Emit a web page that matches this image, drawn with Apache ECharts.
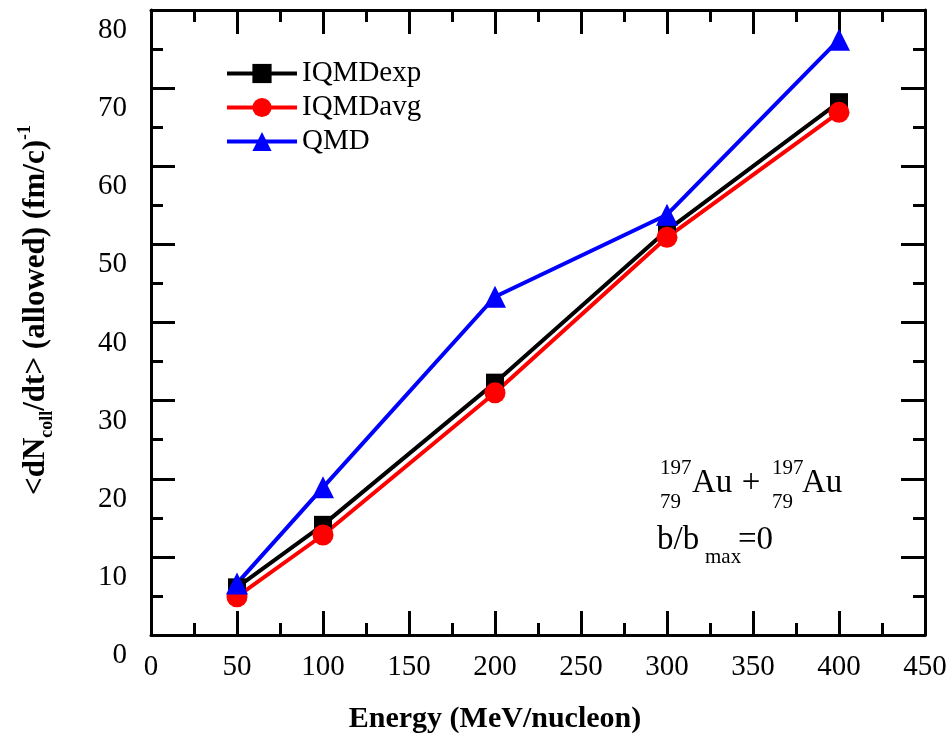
<!DOCTYPE html>
<html>
<head>
<meta charset="utf-8">
<script src="https://cdn.jsdelivr.net/npm/echarts@6/dist/echarts.min.js"></script>
<style>html,body{margin:0;padding:0;background:#fff;}#c{width:951px;height:738px;}</style>
</head>
<body>
<div id="c"></div>
<script>
var energies = [50, 100, 200, 300, 400];
var iqmdExp = [6.1, 14.1, 32.3, 51.8, 68.2];
var iqmdAvg = [4.9, 12.8, 31.0, 50.9, 66.9];
var qmd = [6.6, 18.9, 43.3, 53.8, 76.2];
var seriesNames = ['IQMDexp', 'IQMDavg', 'QMD'];
var xTicks = {min: 0, max: 450, interval: 50};
var yTicks = {min: 0, max: 80, interval: 10};

var FONT = '"Liberation Serif", "Times New Roman", serif';
function pairs(xs, ys) { return xs.map(function (x, i) { return [x, ys[i]]; }); }

var chart = echarts.init(document.getElementById('c'));
var axisLineStyle = {color: '#000', width: 3};
var tick = {show: true, inside: true, length: 24, lineStyle: {color: '#000', width: 3}};
var minor = {show: true, splitNumber: 2, length: 12, lineStyle: {color: '#000', width: 3}};

chart.setOption({
  animation: false,
  backgroundColor: '#fff',
  grid: {left: 151, right: 26, top: 10, bottom: 103, containLabel: false},
  legend: {
    orient: 'vertical', left: 225, top: 59, padding: 0,
    itemWidth: 70, itemHeight: 24, itemGap: 5,
    lineStyle: {width: 4},
    textStyle: {fontFamily: FONT, fontSize: 29, color: '#000'},
    data: seriesNames
  },
  xAxis: [{
    type: 'value', position: 'bottom', min: xTicks.min, max: xTicks.max, interval: xTicks.interval,
    axisLine: {show: true, onZero: false, lineStyle: axisLineStyle},
    axisTick: tick, minorTick: minor, splitLine: {show: false},
    axisLabel: {fontFamily: FONT, fontSize: 29, color: '#000', margin: 18, showMinLabel: true, showMaxLabel: true}
  }, {
    type: 'value', position: 'top', min: xTicks.min, max: xTicks.max, interval: xTicks.interval,
    axisLine: {show: true, onZero: false, lineStyle: axisLineStyle},
    axisTick: tick, minorTick: minor, splitLine: {show: false}, axisLabel: {show: false}
  }],
  yAxis: [{
    type: 'value', position: 'left', min: yTicks.min, max: yTicks.max, interval: yTicks.interval,
    axisLine: {show: true, onZero: false, lineStyle: axisLineStyle},
    axisTick: tick, minorTick: minor, splitLine: {show: false},
    axisLabel: {fontFamily: FONT, fontSize: 29, color: '#000', margin: 24, verticalAlign: 'top', padding: [6, 0, 0, 0], showMinLabel: true, showMaxLabel: true}
  }, {
    type: 'value', position: 'right', min: yTicks.min, max: yTicks.max, interval: yTicks.interval,
    axisLine: {show: true, onZero: false, lineStyle: axisLineStyle},
    axisTick: tick, minorTick: minor, splitLine: {show: false}, axisLabel: {show: false}
  }],
  series: [{
    name: seriesNames[0], type: 'line', data: pairs(energies, iqmdExp),
    symbol: 'rect', symbolSize: 18, color: '#000',
    lineStyle: {width: 4, color: '#000'}, itemStyle: {color: '#000'}
  }, {
    name: seriesNames[1], type: 'line', data: pairs(energies, iqmdAvg),
    symbol: 'circle', symbolSize: 21, color: '#ff0000',
    lineStyle: {width: 4, color: '#ff0000'}, itemStyle: {color: '#ff0000'}
  }, {
    name: seriesNames[2], type: 'line', data: pairs(energies, qmd),
    symbol: 'triangle', symbolSize: 22, color: '#0000ff',
    lineStyle: {width: 4, color: '#0000ff'}, itemStyle: {color: '#0000ff'}
  }],
  graphic: [
    {type: 'text', x: 495, y: 719, style: {text: 'Energy (MeV/nucleon)', fontFamily: FONT, fontSize: 30, fontWeight: 'bold', fill: '#000', align: 'center', verticalAlign: 'middle'}},
    {type: 'text', x: 36, y: 310, rotation: Math.PI / 2,
      style: {
        text: '{n|<dN}{sub|coll}{n|/dt> (allowed) (fm/c)}{sup|-1}',
        align: 'center', verticalAlign: 'middle', fill: '#000',
        rich: {
          n: {fontFamily: FONT, fontSize: 31, fontWeight: 'bold', lineHeight: 40, fill: '#000'},
          sub: {fontFamily: FONT, fontSize: 18, fontWeight: 'bold', lineHeight: 18, verticalAlign: 'bottom', fill: '#000'},
          sup: {fontFamily: FONT, fontSize: 18, fontWeight: 'bold', lineHeight: 18, verticalAlign: 'top', fill: '#000'}
        }
      }},
    {type: 'text', x: 660, y: 468, style: {text: '197', fontFamily: FONT, fontSize: 21, fill: '#000', verticalAlign: 'middle'}},
    {type: 'text', x: 660, y: 502, style: {text: '79', fontFamily: FONT, fontSize: 21, fill: '#000', verticalAlign: 'middle'}},
    {type: 'text', x: 692, y: 483, style: {text: 'Au', fontFamily: FONT, fontSize: 33, fill: '#000', verticalAlign: 'middle'}},
    {type: 'text', x: 751, y: 483, style: {text: '+', fontFamily: FONT, fontSize: 33, fill: '#000', align: 'center', verticalAlign: 'middle'}},
    {type: 'text', x: 772, y: 468, style: {text: '197', fontFamily: FONT, fontSize: 21, fill: '#000', verticalAlign: 'middle'}},
    {type: 'text', x: 772, y: 502, style: {text: '79', fontFamily: FONT, fontSize: 21, fill: '#000', verticalAlign: 'middle'}},
    {type: 'text', x: 802, y: 483, style: {text: 'Au', fontFamily: FONT, fontSize: 33, fill: '#000', verticalAlign: 'middle'}},
    {type: 'text', x: 657, y: 540, style: {text: 'b/b', fontFamily: FONT, fontSize: 33, fill: '#000', verticalAlign: 'middle'}},
    {type: 'text', x: 705, y: 557, style: {text: 'max', fontFamily: FONT, fontSize: 21, fill: '#000', verticalAlign: 'middle'}},
    {type: 'text', x: 738, y: 540, style: {text: '=0', fontFamily: FONT, fontSize: 33, fill: '#000', verticalAlign: 'middle'}}
  ]
});
</script>
</body>
</html>
